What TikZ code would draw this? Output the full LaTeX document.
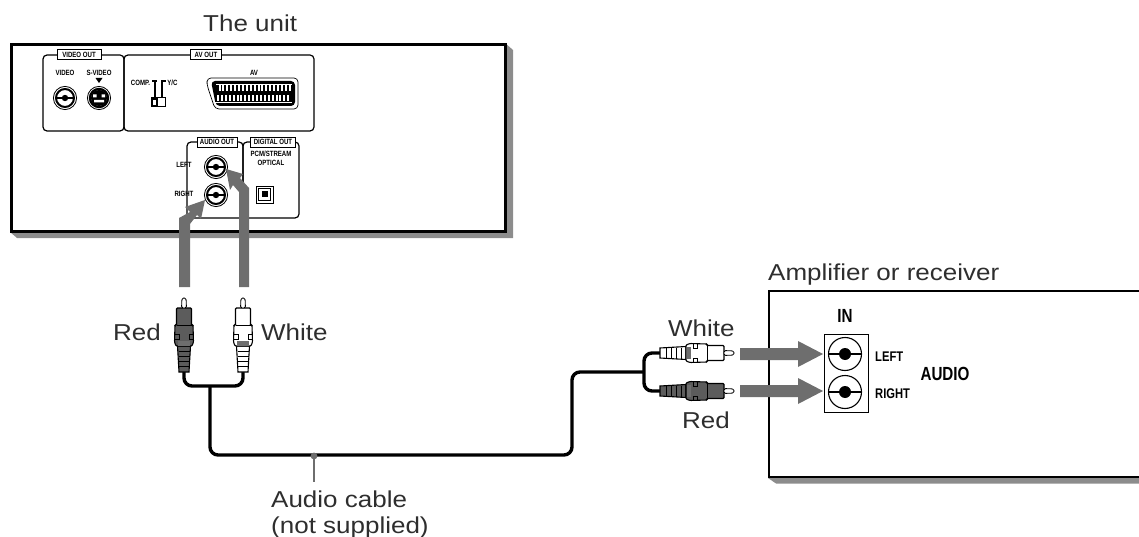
\documentclass[tikz,border=0pt]{standalone}
\usepackage{fontspec}
\setmainfont{Liberation Sans}
\newfontfamily\cond[FakeStretch=0.8]{Liberation Sans Bold}
\newfontfamily\wide[FakeStretch=1.13]{Liberation Sans}
\definecolor{arr}{HTML}{6E6E6E}
\definecolor{shadowgray}{HTML}{8C8C8C}
\definecolor{txt}{HTML}{2E2E2E}
\definecolor{plugdark}{HTML}{5C5C5C}
\tikzset{
  x=1pt,y=-1pt,
  panel/.style={draw=black,line width=1.2pt,rounded corners=4pt},
  tag/.style={draw=black,fill=white,line width=.8pt,inner sep=0pt,minimum height=10pt,font=\cond\fontsize{7.6}{8}\selectfont,text=black},
  small/.style={inner sep=0pt,font=\cond\fontsize{7.6}{8}\selectfont,text=black},
  big/.style={inner sep=0pt,font=\wide\fontsize{23}{26}\selectfont,text=txt,anchor=base west},
  amplabel/.style={inner sep=0pt,font=\cond\fontsize{14}{15}\selectfont,text=black},
  amphead/.style={inner sep=0pt,font=\cond\fontsize{19}{20}\selectfont,text=black},
  cable/.style={draw=black,line width=3.4pt,rounded corners=8pt},
  garrow/.style={fill=arr,draw=none},
  plug/.pic={
    \fill[#1,draw=black,line width=1.1pt] (0,-5) -- (26,-6.5) -- (26,6.5) -- (0,5) -- cycle;
    \foreach \q in {6,11,16,21}{\draw[black,line width=1pt] (\q,-5.5) -- (\q,5.5);}
    \fill[#1,draw=black,line width=1.1pt,rounded corners=1pt] (26,-8) -- (30,-9.5) -- (47,-9) -- (47,-7.5) -- (64,-7.5) -- (64,7.5) -- (47,7.5) -- (47,9) -- (30,9.5) -- (26,8) -- cycle;
    \fill[arr] (26.5,-6) rectangle (31,6);
    \draw[black,line width=.9pt] (33,-9.5) -- (33,-5) -- (37.5,-5) -- (37.5,-9.5) (33,9.5) -- (33,5) -- (37.5,5) -- (37.5,9.5);
    \draw[black,line width=1pt] (47,-7.5) -- (47,7.5);
    \draw[fill=white,line width=.8pt,rounded corners=1.5pt] (64,-2.5) -- (74,-2) -- (74,2) -- (64,2.5) -- cycle;
  },
  jacksmall/.pic={
    \draw[black,line width=.8pt] (0,0) circle (11.6);
    \draw[black,line width=2pt] (0,0) circle (9);
    \fill[black] (0,0) circle (3.2);
    \draw[black,line width=1.2pt] (-9,0) -- (9,0);
  },
  jackbig/.pic={
    \draw[black,line width=1.1pt] (0,0) circle (16.5);
    \fill[black] (0,0) circle (6);
    \draw[black,line width=1.1pt] (-16.5,0) -- (16.5,0);
  }
}
\begin{document}
\begin{tikzpicture}
\useasboundingbox (0,0) rectangle (1139,537);
% ---- the unit
\fill[shadowgray] (505,43) -- (513,50) -- (513,238) -- (17,238) -- (10,232) -- cycle;
\draw[black,line width=3pt,fill=white] (11,44.5) rectangle (505,231.5);
\draw[panel] (124,55) rectangle (314,131);
\draw[panel] (43,55) rectangle (124,131);
\draw[panel] (187,142) rectangle (243,218);
\draw[panel] (243,142) rectangle (299,218);
\node[tag,minimum width=44pt] (tv) at (79,54.5) {VIDEO OUT};
\node[tag,minimum width=31pt] (ta) at (206,54.5) {AV OUT};
\node[tag,minimum width=40pt] (tau) at (217,142) {AUDIO OUT};
\node[tag,minimum width=45pt] (td) at (273,142) {DIGITAL OUT};
\node[small] (lv) at (65,73) {VIDEO};
\node[small] (ls) at (99,73) {S-VIDEO};
\fill[black] (95.5,78) -- (102.5,78) -- (99,83) -- cycle;
\node[small] (lc) at (140.5,82.5) {COMP.};
\node[small] (ly) at (172.5,82.5) {Y/C};
\node[small] (lav) at (254,73) {AV};
\node[small] (ll) at (184,165) {LEFT};
\node[small] (lr) at (184,194) {RIGHT};
\node[small] (lp) at (271,154) {PCM/STREAM};
\node[small] (lo) at (271,163) {OPTICAL};
% connectors of the panel
\pic at (65,98) {jacksmall};
\draw[black,line width=.8pt] (99,98) circle (11.6);
\draw[black,line width=2.4pt] (99,98) circle (9);
\fill[black] (99,98) circle (8);
\fill[white] (93,94.5) rectangle (96.5,97.5) (101.5,94.5) rectangle (105,97.5) (94,100) rectangle (104,102.5);
% switch
\draw[black,line width=1.6pt] (152,81) -- (157,81) (155,81) -- (155,98) (162,98) -- (162,81) -- (166,81);
\draw[black,line width=1pt,fill=white] (151,98) rectangle (165,107);
\fill[black] (151,98) rectangle (158,107);
\fill[white] (153,100.5) rectangle (156,105);
% scart
\draw[black,line width=.7pt,rounded corners=4pt] (250,78) -- (298,78) -- (298,109) -- (215,109) -- (207,85) -- (207,78) -- cycle;
\fill[black,rounded corners=4pt] (211,81) -- (295,81) -- (295,106) -- (216,106) -- cycle;
\foreach \i in {0,...,18}{
  \fill[white] ({218.5+\i*3.9},85) rectangle ({220.5+\i*3.9},91.5);
  \fill[white] ({217+\i*3.9},95) rectangle ({219+\i*3.9},101.5);
}
\draw[white,line width=.6pt] (216,84) -- (292,84) (215,102.5) -- (292,102.5);
% audio jacks, optical
\pic at (216,167) {jacksmall};
\pic at (216,195) {jacksmall};
\draw[black,line width=.8pt] (256,186) rectangle (273,203);
\draw[black,line width=1.6pt] (258.5,188.5) rectangle (270.5,200.5);
\fill[black] (261.5,191.5) rectangle (267.5,197.5);
% big arrows up
\fill[garrow] (179,287) -- (179,218) -- (190,212) -- (185,207) -- (205,200) -- (201,219) -- (197,215) -- (190,224) -- (190,287) -- cycle;
\fill[garrow] (239,287) -- (239,192) -- (233,185) -- (230,190) -- (226,169) -- (243,174) -- (240,178) -- (249,188) -- (249,287) -- cycle;
% ---- amplifier
\fill[shadowgray] (768,478) -- (1139,478) -- (1139,483.5) -- (776,483.5) -- cycle;
\draw[black,line width=2.8pt,fill=white] (769,291) -- (1142,291) -- (1142,477) -- (769,477) -- cycle;
\draw[black,line width=.8pt] (824,334) rectangle (868,412);
\pic at (845,354) {jackbig};
\pic at (845,392) {jackbig};
\node[amphead] (lin) at (845,316) {IN};
\node[amplabel,anchor=west] (lleft) at (875,357) {LEFT};
\node[amplabel,anchor=west] (lright) at (875,394) {RIGHT};
\node[amphead] (laudio) at (945,374) {AUDIO};
% ---- arrows right
\fill[garrow] (740,348) -- (798,348) -- (798,341) -- (823,354) -- (798,367) -- (798,360) -- (740,360) -- cycle;
\fill[garrow] (740,385) -- (798,385) -- (798,378) -- (823,391) -- (798,404) -- (798,397) -- (740,397) -- cycle;
% ---- plugs and cable
\coordinate (rp) at (184,372);
\coordinate (wp) at (243,372);
\coordinate (tp) at (660,353);
\coordinate (bp) at (660,391);
\coordinate (j1) at (210,386);
\coordinate (j2) at (644,372);
\coordinate (cnote) at (314,456);
\coordinate (cnoteend) at (314,482);
\draw[cable] (rp) -- (184,386) -- (wp |- j1) -- (wp);
\draw[cable] (j1) -- (210,455) -- (572,455) -- (572,372) -- (j2);
\draw[cable] (tp) -- (644,353) -- (644,391) -- (bp);
\pic[rotate=90] at (rp) {plug={plugdark}};
\pic[rotate=90] at (wp) {plug={white}};
\pic at (tp) {plug={white}};
\pic at (bp) {plug={plugdark}};
\draw[arr,line width=2pt] (cnote) -- (cnoteend);
\fill[arr] (cnote) circle (3.4);
% ---- texts
\node[big] (t1) at (203,32) {The unit};
\node[big] (t2) at (113,340) {Red};
\node[big] (t3) at (261,340) {White};
\node[big] (t4) at (668,336) {White};
\node[big] (t5) at (682,428) {Red};
\node[big] (t6) at (768,280) {Amplifier or receiver};
\node[big] (t7) at (271,507) {Audio cable};
\node[big] (t8) at (271,533) {(not supplied)};
\end{tikzpicture}
\end{document}
